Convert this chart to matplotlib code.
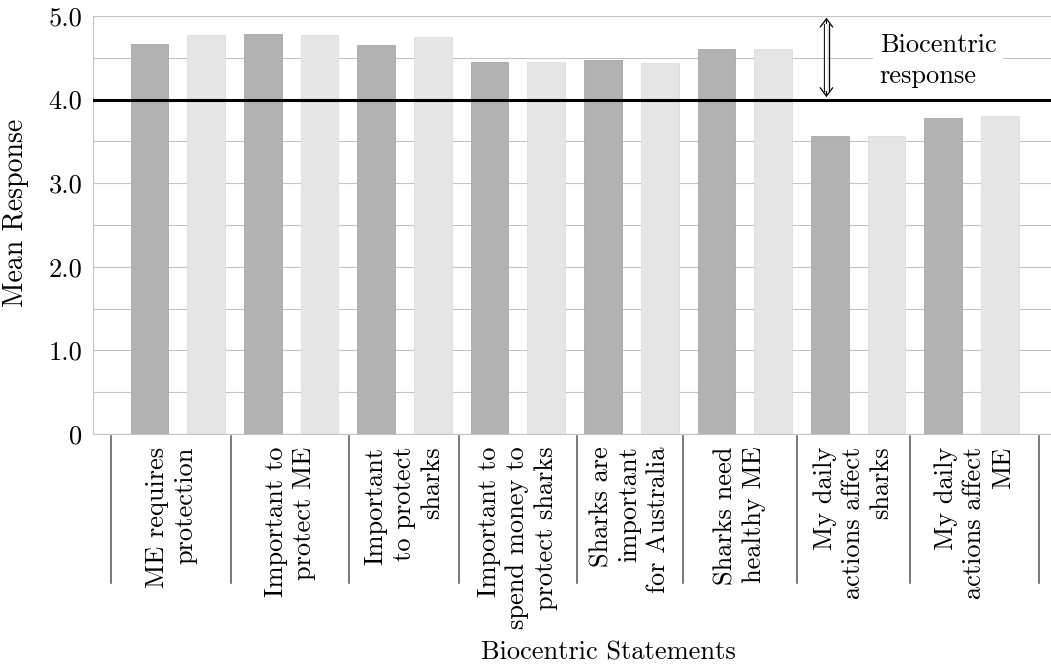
import numpy as np
import matplotlib
matplotlib.use("Agg")
import matplotlib.pyplot as plt
from matplotlib.transforms import blended_transform_factory

plt.rcParams['font.family'] = ['cmr10', 'DejaVu Serif']
plt.rcParams['axes.formatter.use_mathtext'] = True

# ---- data ----
categories = [
    "ME requires\nprotection",
    "Important to\nprotect ME",
    "Important\nto protect\nsharks",
    "Important to\nspend money to\nprotect sharks",
    "Sharks are\nimportant\nfor Australia",
    "Sharks need\nhealthy ME",
    "My daily\nactions affect\nsharks",
    "My daily\nactions affect\nME",
]
series_dark = [4.67, 4.79, 4.65, 4.45, 4.47, 4.60, 3.57, 3.78]
series_light = [4.77, 4.77, 4.75, 4.45, 4.44, 4.60, 3.57, 3.80]
ytick_values = [0, 1, 2, 3, 4, 5]
ytick_labels = ["0", "1.0", "2.0", "3.0", "4.0", "5.0"]
threshold = 4.0
annotation_text = "Biocentric\nresponse"
xlabel = "Biocentric Statements"
ylabel = "Mean Response"

# ---- style ----
FS = 19
dark_col = "#b2b2b2"
light_col = "#e5e5e5"
grid_col = "#c4c4c4"
sep_positions = [-0.674, 1.443, 3.524, 5.453, 7.534, 9.404, 11.414, 13.413, 15.688]

fig = plt.figure(figsize=(10.51, 6.68), dpi=100)
ax = fig.add_axes([0.0882, 0.3503, 0.9118, 0.6257])

n = len(categories)
x_dark = np.arange(n) * 2
x_light = x_dark + 1
bw = 0.665
ax.bar(x_dark, series_dark, width=bw, color=dark_col, edgecolor="#a8a8a8", linewidth=0.6, zorder=2)
ax.bar(x_light, series_light, width=bw, color=light_col, edgecolor="#dcdcdc", linewidth=0.6, zorder=2)

ax.set_xlim(-1.0, 15.9)
ax.set_ylim(0, 5.0)

# grid every 0.5
ax.set_yticks(ytick_values)
ax.set_yticklabels(ytick_labels, fontsize=FS)
ax.set_yticks(np.arange(0.5, 5.0, 1.0), minor=True)
ax.grid(True, axis="y", which="both", color=grid_col, linewidth=0.8, zorder=0)
ax.set_axisbelow(True)
ax.tick_params(axis="y", which="both", length=0, pad=7.5)
ax.set_xticks([])

for s in ["top", "right"]:
    ax.spines[s].set_visible(False)
for s in ["left", "bottom"]:
    ax.spines[s].set_color(grid_col)
    ax.spines[s].set_linewidth(0.8)
ax.axhline(5.0, color=grid_col, linewidth=0.8, zorder=0)

# threshold line
ax.axhline(threshold, color="black", linewidth=2.2, zorder=3)

# category separators and labels below the axis
trans = blended_transform_factory(ax.transData, ax.transAxes)
for sp in sep_positions:
    ax.plot([sp, sp], [-0.004, -0.356], transform=trans, color="#555555",
            linewidth=1.1, clip_on=False, zorder=3)
for i, lab in enumerate(categories):
    xc = (sep_positions[i] + sep_positions[i + 1]) / 2
    ax.text(xc, -0.03, lab, transform=trans, rotation=90, ha="center", va="top",
            multialignment="right", fontsize=FS, linespacing=1.25)

# axis labels
ax.set_ylabel(ylabel, fontsize=20)
ax.yaxis.set_label_coords(-0.066, 0.529)
ax.set_xlabel(xlabel, fontsize=FS)
ax.xaxis.set_label_coords(0.538, -0.495)

# double arrow annotation
ax_x = 11.94
ax.annotate("", xy=(ax_x, 4.98), xytext=(ax_x, 4.03),
            arrowprops=dict(arrowstyle="<->,head_length=0.6,head_width=0.45",
                            color="black", lw=0.9, shrinkA=0, shrinkB=0), zorder=4)
ax.plot([ax_x - 0.04, ax_x - 0.04], [4.10, 4.91], color="black", lw=0.9, zorder=4)
ax.plot([ax_x + 0.04, ax_x + 0.04], [4.10, 4.91], color="black", lw=0.9, zorder=4)
ax.plot([ax_x, ax_x], [4.12, 4.89], color="white", lw=1.6, zorder=4)

ax.text(12.88, 4.47, annotation_text, fontsize=FS, ha="left", va="center",
        linespacing=1.4, zorder=5,
        bbox=dict(facecolor="white", edgecolor="none", pad=5))

fig.savefig("out.png", dpi=100)
